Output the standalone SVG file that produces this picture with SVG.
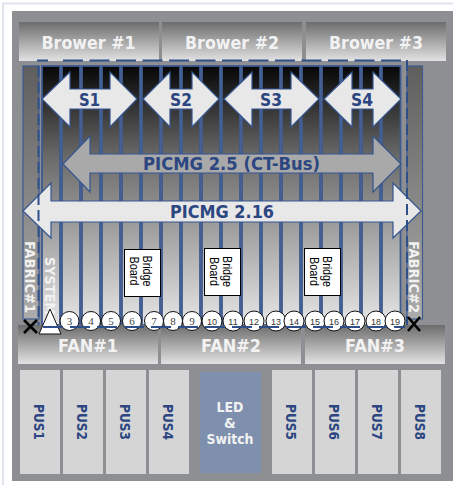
<svg xmlns="http://www.w3.org/2000/svg" width="453" height="485" viewBox="0 0 453 485">
<style>
.b{font-family:"DejaVu Sans",Verdana,sans-serif;font-weight:700}
.w{fill:#f2f2f2}
.n{fill:#2b4681}
.slot{fill:url(#sg);stroke:#3d5a92;stroke-width:1.8}
.ar{stroke:#35558f;stroke-width:1.2;fill:#e8e8e8}
.hd{fill:url(#hg)}
.pus{fill:#d5d5d5}
.c{fill:#fff;stroke:#111;stroke-width:1}
.num{font-family:"Liberation Serif",serif;font-size:11px;fill:#444;text-anchor:middle}
.num2{font-family:"Liberation Sans",sans-serif;font-size:9px;fill:#333;text-anchor:middle}
.br{font-family:"Liberation Sans",sans-serif;font-size:12px;fill:#000;text-anchor:middle}
.x{stroke:#000;stroke-width:2.6;fill:none}
.dash{stroke:#2f4f8a;stroke-width:2;fill:none;stroke-dasharray:11 5}
</style>
<defs>
<linearGradient id="sg" x1="0" y1="0" x2="0" y2="1"><stop offset="0" stop-color="#060606"/><stop offset="0.35" stop-color="#6a6a6a"/><stop offset="1" stop-color="#e6e6e6"/></linearGradient>
<linearGradient id="fg" x1="0" y1="0" x2="0" y2="1"><stop offset="0" stop-color="#5e5e5e"/><stop offset="1" stop-color="#acacac"/></linearGradient>
<linearGradient id="hg" x1="0" y1="0" x2="0" y2="1"><stop offset="0" stop-color="#6c6c6c"/><stop offset="1" stop-color="#e2e2e2"/></linearGradient>
</defs>
<rect x="0" y="0" width="453" height="485" fill="#fff"/>
<path d="M3 485V3.500H453" fill="none" stroke="#dfe4ee" stroke-width="2"/>
<rect x="12" y="11" width="441" height="470" fill="#8e8f92"/>

<g id="fabric1"><rect x="23" y="66" width="16" height="253" fill="url(#fg)" stroke="#3d5a92" stroke-width="1.2"/></g>
<g id="fabric2"><rect x="407" y="66" width="15.500" height="253" fill="url(#fg)" stroke="#3d5a92" stroke-width="1.2"/></g>

<g id="slots">
<rect class="slot" x="42" y="66" width="18" height="259"/><rect class="slot" x="62" y="66" width="18" height="259"/><rect class="slot" x="82" y="66" width="18" height="259"/><rect class="slot" x="102" y="66" width="18" height="259"/><rect class="slot" x="122" y="66" width="18" height="259"/><rect class="slot" x="142" y="66" width="18" height="259"/><rect class="slot" x="162" y="66" width="18" height="259"/><rect class="slot" x="182" y="66" width="18" height="259"/><rect class="slot" x="202" y="66" width="18" height="259"/><rect class="slot" x="222" y="66" width="18" height="259"/><rect class="slot" x="242" y="66" width="18" height="259"/><rect class="slot" x="262" y="66" width="18" height="259"/><rect class="slot" x="282" y="66" width="18" height="259"/><rect class="slot" x="302" y="66" width="18" height="259"/><rect class="slot" x="322" y="66" width="18" height="259"/><rect class="slot" x="342" y="66" width="18" height="259"/><rect class="slot" x="362" y="66" width="18" height="259"/><rect class="slot" x="382" y="66" width="18.500" height="259"/>
</g>

<g id="brower1"><rect class="hd" x="19" y="22" width="140" height="39"/><text class="b w" x="88.500" y="49" font-size="17" text-anchor="middle" textLength="94" lengthAdjust="spacingAndGlyphs">Brower #1</text></g>
<g id="brower2"><rect class="hd" x="162" y="22" width="140" height="39"/><text class="b w" x="232" y="49" font-size="17" text-anchor="middle" textLength="94" lengthAdjust="spacingAndGlyphs">Brower #2</text></g>
<g id="brower3"><rect class="hd" x="306" y="22" width="140" height="39"/><text class="b w" x="376" y="49" font-size="17" text-anchor="middle" textLength="94" lengthAdjust="spacingAndGlyphs">Brower #3</text></g>

<g id="fan1"><rect class="hd" x="18" y="325" width="140" height="39"/><text class="b w" x="88" y="352" font-size="17" text-anchor="middle" textLength="60" lengthAdjust="spacingAndGlyphs">FAN#1</text></g>
<g id="fan2"><rect class="hd" x="161" y="325" width="140" height="39"/><text class="b w" x="231" y="352" font-size="17" text-anchor="middle" textLength="60" lengthAdjust="spacingAndGlyphs">FAN#2</text></g>
<g id="fan3"><rect class="hd" x="305" y="325" width="140" height="39"/><text class="b w" x="375" y="352" font-size="17" text-anchor="middle" textLength="60" lengthAdjust="spacingAndGlyphs">FAN#3</text></g>

<g id="s1"><path class="ar" d="M42 99L70 72V89H110V72L137 99L110 127V109H70V127Z"/><text class="b n" x="89.500" y="106" font-size="17" text-anchor="middle" textLength="21" lengthAdjust="spacingAndGlyphs">S1</text></g>
<g id="s2"><path class="ar" d="M143 99L170 72V89H192V72L219 99L192 127V109H170V127Z"/><text class="b n" x="181" y="106" font-size="17" text-anchor="middle" textLength="22" lengthAdjust="spacingAndGlyphs">S2</text></g>
<g id="s3"><path class="ar" d="M224 99L252 72V89H291V72L319 99L291 127V109H252V127Z"/><text class="b n" x="271" y="106" font-size="17" text-anchor="middle" textLength="22" lengthAdjust="spacingAndGlyphs">S3</text></g>
<g id="s4"><path class="ar" d="M324 99L352 72V89H373V72L401 99L373 127V109H352V127Z"/><text class="b n" x="362" y="106" font-size="17" text-anchor="middle" textLength="22" lengthAdjust="spacingAndGlyphs">S4</text></g>
<g id="ctbus"><path class="ar" style="fill:#a9a9a9" d="M63 164L90 136V154H373V136L401 164L373 192V173H90V192Z"/><text class="b n" x="231.500" y="170" font-size="17" text-anchor="middle" textLength="177" lengthAdjust="spacingAndGlyphs">PICMG 2.5 (CT-Bus)</text></g>
<g id="picmg216"><path class="ar" d="M23 211L51 183V201H393V183L421 211L393 238V222H51V238Z"/><text class="b n" x="222" y="218" font-size="17" text-anchor="middle" textLength="104" lengthAdjust="spacingAndGlyphs">PICMG 2.16</text></g>

<g id="fabric-labels">
<text class="b w" transform="translate(25,277) rotate(90)" font-size="14" text-anchor="middle" textLength="72" lengthAdjust="spacingAndGlyphs">FABRIC#1</text>
<text class="b w" transform="translate(409,277) rotate(90)" font-size="14" text-anchor="middle" textLength="72" lengthAdjust="spacingAndGlyphs">FABRIC#2</text>
<text class="b w" transform="translate(45,286) rotate(90)" font-size="14" text-anchor="middle" textLength="58" lengthAdjust="spacingAndGlyphs">SYSTEM</text>
</g>

<g id="bridge1"><rect x="124.500" y="249.500" width="36" height="47" fill="#fff" stroke="#000"/><text class="br" transform="translate(143,271) rotate(90)" textLength="31" lengthAdjust="spacingAndGlyphs">Bridge</text><text class="br" transform="translate(129.500,271) rotate(90)" textLength="29" lengthAdjust="spacingAndGlyphs">Board</text></g>
<g id="bridge2"><rect x="204.500" y="248.500" width="36" height="47" fill="#fff" stroke="#000"/><text class="br" transform="translate(223,271.500) rotate(90)" textLength="31" lengthAdjust="spacingAndGlyphs">Bridge</text><text class="br" transform="translate(209.500,271.500) rotate(90)" textLength="29" lengthAdjust="spacingAndGlyphs">Board</text></g>
<g id="bridge3"><rect x="304.500" y="248.500" width="36" height="47" fill="#fff" stroke="#000"/><text class="br" transform="translate(323,271.500) rotate(90)" textLength="31" lengthAdjust="spacingAndGlyphs">Bridge</text><text class="br" transform="translate(309.500,271.500) rotate(90)" textLength="29" lengthAdjust="spacingAndGlyphs">Board</text></g>

<g id="n3"><circle class="c" cx="69.500" cy="321" r="9.500"/><text class="num" x="69.500" y="325">3</text></g>
<g id="n4"><circle class="c" cx="91" cy="321" r="9.500"/><text class="num" x="91" y="325">4</text></g>
<g id="n5"><circle class="c" cx="111" cy="321" r="9.500"/><text class="num" x="111" y="325">5</text></g>
<g id="n6"><circle class="c" cx="132" cy="321" r="9.500"/><text class="num" x="132" y="325">6</text></g>
<g id="n7"><circle class="c" cx="154" cy="321" r="9.500"/><text class="num" x="154" y="325">7</text></g>
<g id="n8"><circle class="c" cx="173" cy="321" r="9.500"/><text class="num" x="173" y="325">8</text></g>
<g id="n9"><circle class="c" cx="192" cy="321" r="9.500"/><text class="num" x="192" y="325">9</text></g>
<g id="n10"><circle class="c" cx="212" cy="321" r="10"/><text class="num2" x="212" y="325">10</text></g>
<g id="n11"><circle class="c" cx="233" cy="321" r="10"/><text class="num2" x="233" y="325">11</text></g>
<g id="n12"><circle class="c" cx="254" cy="321" r="10"/><text class="num2" x="254" y="325">12</text></g>
<g id="n13"><circle class="c" cx="276" cy="321" r="10"/><text class="num2" x="276" y="325">13</text></g>
<g id="n14"><circle class="c" cx="294" cy="321" r="10"/><text class="num2" x="294" y="325">14</text></g>
<g id="n15"><circle class="c" cx="315" cy="321" r="10"/><text class="num2" x="315" y="325">15</text></g>
<g id="n16"><circle class="c" cx="334" cy="321" r="10"/><text class="num2" x="334" y="325">16</text></g>
<g id="n17"><circle class="c" cx="355" cy="321" r="10"/><text class="num2" x="355" y="325">17</text></g>
<g id="n18"><circle class="c" cx="376" cy="321" r="10"/><text class="num2" x="376" y="325">18</text></g>
<g id="n19"><circle class="c" cx="395" cy="321" r="10"/><text class="num2" x="395" y="325">19</text></g>

<g id="system-triangle"><path d="M50 309L61 334H39Z" fill="#fff" stroke="#111" stroke-width="1"/></g>

<g id="connectors">
<path d="M37 60.500H48M63 60.500H401" fill="none" stroke="#2f4f8a" stroke-width="2" stroke-dasharray="20 6.500"/>
<path class="dash" d="M38.500 66V325"/>
<path class="dash" d="M407 60V325"/>
<path d="M43 327H405" fill="none" stroke="#2f4f8a" stroke-width="2" stroke-dasharray="20 7"/>
</g>

<g id="x1"><path class="x" d="M24 320L37 333M37 320L24 333"/></g>
<g id="x2"><path class="x" d="M408 317L420 331M420 317L408 331"/></g>

<g id="pus1"><rect class="pus" x="20" y="370" width="40" height="104"/><text class="b n" transform="translate(34,422) rotate(90)" font-size="14" text-anchor="middle" textLength="36" lengthAdjust="spacingAndGlyphs">PUS1</text></g>
<g id="pus2"><rect class="pus" x="63" y="370" width="40" height="104"/><text class="b n" transform="translate(77,422) rotate(90)" font-size="14" text-anchor="middle" textLength="36" lengthAdjust="spacingAndGlyphs">PUS2</text></g>
<g id="pus3"><rect class="pus" x="106" y="370" width="40" height="104"/><text class="b n" transform="translate(120,422) rotate(90)" font-size="14" text-anchor="middle" textLength="36" lengthAdjust="spacingAndGlyphs">PUS3</text></g>
<g id="pus4"><rect class="pus" x="149" y="370" width="40" height="104"/><text class="b n" transform="translate(163,422) rotate(90)" font-size="14" text-anchor="middle" textLength="36" lengthAdjust="spacingAndGlyphs">PUS4</text></g>
<g id="led"><rect x="200" y="372" width="61" height="101" fill="#7f8fae"/><text class="b w" x="230" y="412" font-size="13.500" text-anchor="middle" textLength="27" lengthAdjust="spacingAndGlyphs">LED</text><text class="b w" x="230" y="428" font-size="13.500" text-anchor="middle">&amp;</text><text class="b w" x="230" y="444" font-size="13.500" text-anchor="middle" textLength="47" lengthAdjust="spacingAndGlyphs">Switch</text></g>
<g id="pus5"><rect class="pus" x="272" y="370" width="40" height="104"/><text class="b n" transform="translate(286,422) rotate(90)" font-size="14" text-anchor="middle" textLength="36" lengthAdjust="spacingAndGlyphs">PUS5</text></g>
<g id="pus6"><rect class="pus" x="315" y="370" width="40" height="104"/><text class="b n" transform="translate(329,422) rotate(90)" font-size="14" text-anchor="middle" textLength="36" lengthAdjust="spacingAndGlyphs">PUS6</text></g>
<g id="pus7"><rect class="pus" x="358" y="370" width="40" height="104"/><text class="b n" transform="translate(372,422) rotate(90)" font-size="14" text-anchor="middle" textLength="36" lengthAdjust="spacingAndGlyphs">PUS7</text></g>
<g id="pus8"><rect class="pus" x="401" y="370" width="40" height="104"/><text class="b n" transform="translate(415,422) rotate(90)" font-size="14" text-anchor="middle" textLength="36" lengthAdjust="spacingAndGlyphs">PUS8</text></g>
</svg>
